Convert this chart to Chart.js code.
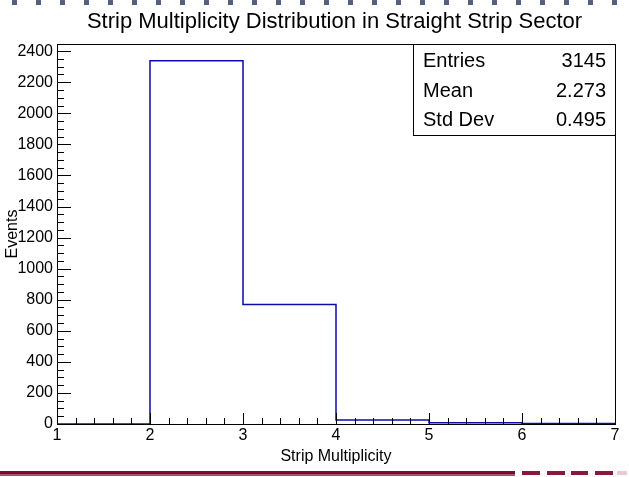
<!DOCTYPE html>
<html>
<head>
<meta charset="utf-8">
<title>Strip Multiplicity</title>
<script src="https://cdn.jsdelivr.net/npm/chart.js@4.4.1/dist/chart.umd.min.js"></script>
<style>
  html, body { margin: 0; padding: 0; background: #fff; }
  #wrap { position: relative; width: 629px; height: 477px; }
</style>
</head>
<body>
<div id="wrap"><canvas id="multChart" width="629" height="477"></canvas></div>
<script>
// histogram: bin edges + counts per bin
const binEdges = [1, 2, 3, 4, 5, 6, 7];
const binCounts = [0, 2338, 770, 25, 8, 4];
const statLabels = ['Entries', 'Mean', 'Std Dev'];
const statValues = ['3145', '2.273', '0.495'];
const yMax = 2446;

const FONT = "'Liberation Sans', Arial, Helvetica, sans-serif";

// step points: each edge carries the height of the bin starting there,
// the last edge repeats the last bin so the top line reaches x = 7
const stepPoints = binEdges.map((e, i) => ({
  x: e,
  y: binCounts[Math.min(i, binCounts.length - 1)]
}));

// ROOT style frame, inward ticks, title, stats box
const rootStyle = {
  id: 'rootStyle',
  beforeDraw(chart) {
    const { ctx } = chart;
    ctx.save();
    // dotted strip on top
    ctx.fillStyle = '#56607a';
    for (let x = 12; x < 629; x += 24) ctx.fillRect(x, 0, 5, 5);
    // maroon bar at the bottom
    ctx.fillStyle = '#7d0a2f';
    ctx.fillRect(0, 471, 515, 3);
    ctx.fillStyle = '#a5566c';
    ctx.fillRect(0, 474, 515, 2);
    const dashes = [[522, 540], [547, 565], [571, 588], [595, 613]];
    dashes.forEach(d => {
      ctx.fillStyle = '#8a1a3d';
      ctx.fillRect(d[0], 471, d[1] - d[0], 4);
    });
    ctx.fillStyle = '#e9c9d2';
    ctx.fillRect(617, 471, 10, 4);
    ctx.restore();
  },
  afterDatasetsDraw(chart) {
    const { ctx, chartArea: { left, right, top, bottom } } = chart;
    const xs = chart.scales.x, ys = chart.scales.y;
    ctx.save();
    ctx.strokeStyle = '#000';
    ctx.lineWidth = 1;
    ctx.beginPath();
    // x ticks, minor every 0.2
    for (let k = 0; k <= 30; k++) {
      const v = 1 + k * 0.2;
      const px = Math.round(xs.getPixelForValue(v)) + 0.5;
      const len = k % 5 === 0 ? 11 : 6;
      ctx.moveTo(px, bottom);
      ctx.lineTo(px, bottom - len);
    }
    // y ticks, minor every 50
    for (let v = 0; v <= yMax; v += 50) {
      const py = Math.round(ys.getPixelForValue(v)) + 0.5;
      const len = v % 200 === 0 ? 14 : 7;
      ctx.moveTo(left, py);
      ctx.lineTo(left + len, py);
    }
    ctx.stroke();
    // frame
    ctx.strokeRect(Math.round(left) + 0.5, Math.round(top) + 0.5,
      Math.round(right - left), Math.round(bottom - top));

    // title
    ctx.fillStyle = '#000';
    ctx.font = `22px ${FONT}`;
    ctx.textAlign = 'center';
    ctx.textBaseline = 'alphabetic';
    ctx.fillText('Strip Multiplicity Distribution in Straight Strip Sector', 334.5, 28);

    // stats box
    ctx.fillStyle = '#fff';
    ctx.fillRect(413.5, top + 0.5, right - 413.5, 91);
    ctx.strokeRect(413.5, Math.round(top) + 0.5, Math.round(right) - 413, 91);
    ctx.fillStyle = '#000';
    ctx.font = `20px ${FONT}`;
    statLabels.forEach((lab, i) => {
      const y = 67 + i * 29.5;
      ctx.textAlign = 'left';
      ctx.fillText(lab, 423, y);
      ctx.textAlign = 'right';
      ctx.fillText(statValues[i], 606, y);
    });
    ctx.restore();
  }
};

const configHist = {
  type: 'line',
  data: {
    datasets: [{
      label: 'Strip Multiplicity',
      data: stepPoints,
      stepped: 'before',
      borderColor: '#0b0ba6',
      borderWidth: 1.5,
      pointRadius: 0,
      fill: false,
      clip: 3
    }]
  },
  options: {
    responsive: false,
    animation: false,
    devicePixelRatio: 1,
    layout: { padding: { top: 44, right: 14, left: 0, bottom: 0 } },
    plugins: {
      legend: { display: false },
      tooltip: { enabled: false }
    },
    scales: {
      x: {
        type: 'linear',
        min: 1,
        max: 7,
        afterFit(scale) { scale.height = 53; },
        grid: { display: false, drawTicks: false },
        border: { display: false },
        ticks: {
          stepSize: 1,
          padding: 2,
          color: '#000',
          font: { family: FONT, size: 16 },
          callback: v => String(v)
        },
        title: {
          display: true,
          text: 'Strip Multiplicity',
          color: '#000',
          font: { family: FONT, size: 16 },
          padding: { top: 0, bottom: 11 }
        }
      },
      y: {
        type: 'linear',
        min: 0,
        max: yMax,
        afterFit(scale) { scale.width = 57; },
        grid: { display: false, drawTicks: false },
        border: { display: false },
        ticks: {
          stepSize: 200,
          includeBounds: false,
          autoSkip: false,
          padding: 4,
          color: '#000',
          font: { family: FONT, size: 16 },
          callback: v => String(v)
        },
        title: {
          display: true,
          text: 'Events',
          color: '#000',
          font: { family: FONT, size: 16 },
          padding: { top: 3, bottom: 0 }
        }
      }
    }
  },
  plugins: [rootStyle]
};

const histChart = new Chart(document.getElementById('multChart'), configHist);
</script>
</body>
</html>
